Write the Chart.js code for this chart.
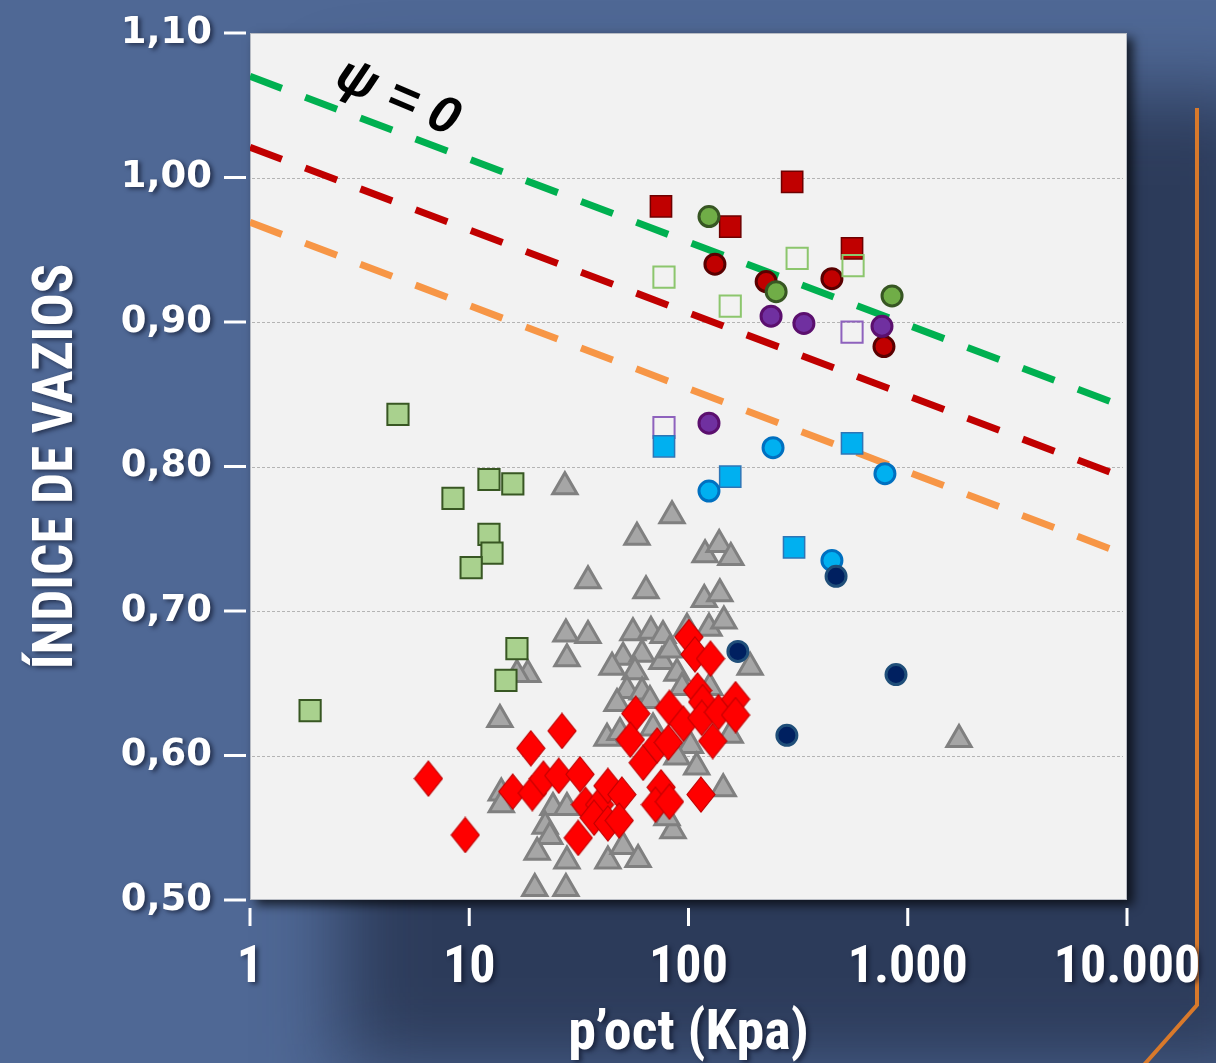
<!DOCTYPE html>
<html>
<head>
<meta charset="utf-8">
<script src="https://cdn.jsdelivr.net/npm/chart.js@4.4.1/dist/chart.umd.min.js"></script>
<style>
  html, body { margin: 0; padding: 0; background: #4f6895; }
  canvas { display: block; }
</style>
</head>
<body>
<canvas id="chart" width="1216" height="1063"></canvas>
<script>
// axes
const xTicks = [1, 10, 100, 1000, 10000];
const xTickLabels = ['1', '10', '100', '1.000', '10.000'];
const yTicks = [0.5, 0.6, 0.7, 0.8, 0.9, 1.0, 1.1];
const yTickLabels = ['0,50', '0,60', '0,70', '0,80', '0,90', '1,00', '1,10'];

// psi = 0 reference lines (p'oct, e)
const lineP = [1, 8400];
const greenLine = [1.070, 0.845];
const redLine = [1.021, 0.796];
const orangeLine = [0.969, 0.743];

// [p'oct kPa, void ratio]
const redSquares = [[74.9, 0.980], [297, 0.997], [155, 0.966], [557, 0.951]];
const greenCircles = [[124, 0.973], [251, 0.921], [848, 0.918]];
const redCircles = [[132, 0.940], [226, 0.928], [451, 0.930], [779, 0.883]];
const openGreenSquares = [[77.3, 0.931], [313, 0.944], [155, 0.911], [563, 0.939]];
const purpleCircles = [[238, 0.904], [336, 0.899], [763, 0.897], [124, 0.830]];
const openPurpleSquares = [[557, 0.893], [77.3, 0.827]];
const blueSquares = [[77.3, 0.814], [557, 0.816], [155, 0.793], [303, 0.744]];
const blueCircles = [[243, 0.813], [787, 0.795], [124, 0.783], [451, 0.735]];
const navyCircles = [[471, 0.724], [168, 0.672], [884, 0.656], [281, 0.614]];
const lightGreenSquares = [[4.73, 0.836], [12.3, 0.791], [15.8, 0.788], [8.43, 0.778], [12.3, 0.753],
  [12.7, 0.740], [10.2, 0.730], [16.5, 0.674], [14.7, 0.652], [1.88, 0.631]];
const grayTriangles = [
  [27.3, 0.786], [84.1, 0.766], [58.2, 0.751], [34.8, 0.721], [64.0, 0.714], [119, 0.739], [138, 0.746],
  [156, 0.737], [118, 0.708], [139, 0.712], [27.6, 0.684], [34.8, 0.683], [55.8, 0.685], [67.4, 0.686],
  [76.5, 0.683], [98.4, 0.688], [124, 0.688], [145, 0.693], [27.9, 0.667], [50.3, 0.668], [61.4, 0.670],
  [44.8, 0.661], [57.0, 0.658], [75.7, 0.665], [82.3, 0.673], [191, 0.661], [88.6, 0.657], [18.5, 0.656],
  [16.5, 0.656], [13.8, 0.625], [52.4, 0.645], [61.4, 0.644], [47.2, 0.636], [66.7, 0.638], [93.4, 0.647],
  [125, 0.647], [42.5, 0.612], [48.7, 0.616], [68.9, 0.619], [102, 0.607], [155, 0.614], [88.6, 0.599],
  [109, 0.592], [144, 0.577], [1713, 0.611], [14.0, 0.574], [14.0, 0.566], [24.1, 0.564], [27.9, 0.564],
  [22.2, 0.551], [23.3, 0.544], [20.4, 0.533], [27.9, 0.527], [42.9, 0.527], [50.3, 0.537], [58.9, 0.528],
  [19.9, 0.508], [27.6, 0.508], [85.0, 0.548], [79.8, 0.557]];
const redDiamonds = [
  [6.51, 0.584], [9.59, 0.545], [19.1, 0.605], [26.5, 0.617], [15.8, 0.575], [19.4, 0.574], [21.8, 0.584],
  [25.6, 0.586], [32.0, 0.587], [33.9, 0.566], [39.3, 0.566], [42.9, 0.579], [49.7, 0.573], [31.4, 0.543],
  [37.1, 0.557], [42.9, 0.553], [48.3, 0.555], [57.5, 0.629], [54.3, 0.611], [62.1, 0.595], [72.0, 0.607],
  [80.9, 0.609], [81.9, 0.633], [94.8, 0.622], [100.5, 0.682], [107, 0.670], [126, 0.667], [110, 0.645],
  [116, 0.637], [115, 0.626], [137, 0.630], [164, 0.639], [164, 0.628], [129, 0.610], [75.0, 0.578],
  [70.7, 0.566], [81.9, 0.568], [114, 0.573]];

const psiLabel = { text: 'ψ = 0', p: 4.7, e: 1.055 };

const narrow = '"Liberation Sans Narrow", "Roboto Condensed", Lato, sans-serif';
const pts = arr => arr.map(d => ({ x: d[0], y: d[1] }));

// diamond marker, a bit taller than wide
const diamond = document.createElement('canvas');
diamond.width = 30; diamond.height = 37;
(function () {
  const c = diamond.getContext('2d');
  c.beginPath();
  c.moveTo(15, 1); c.lineTo(29, 18.5); c.lineTo(15, 36); c.lineTo(1, 18.5); c.closePath();
  c.fillStyle = '#ff0000'; c.fill();
  c.lineWidth = 1.2; c.strokeStyle = '#c00000'; c.stroke();
})();

function markers(data, style, fill, border, radius, bw) {
  return { data: pts(data), pointStyle: style, backgroundColor: fill, borderColor: border,
    pointRadius: radius, pointBorderWidth: bw, showLine: false };
}
function dashLine(vals, color) {
  return { type: 'line', data: lineP.map((p, i) => ({ x: p, y: vals[i] })), borderColor: color,
    borderWidth: 7, borderDash: [34, 25], pointRadius: 0, fill: false, showLine: true, borderCapStyle: 'butt' };
}

const decor = {
  id: 'decor',
  beforeDraw(chart) {
    const { ctx, chartArea: a } = chart;
    ctx.save();
    ctx.fillStyle = '#4f6895';
    ctx.fillRect(0, 0, chart.width, chart.height);
    ctx.filter = 'blur(40px)';
    ctx.fillStyle = 'rgba(22, 30, 52, 0.6)';
    ctx.fillRect(a.left + 90, a.top + 60, a.width + 55, a.height + 110);
    ctx.filter = 'none';
    ctx.shadowColor = 'rgba(0, 0, 0, 0.7)';
    ctx.shadowBlur = 10; ctx.shadowOffsetX = 6; ctx.shadowOffsetY = 5;
    ctx.fillStyle = '#f2f2f2';
    ctx.fillRect(a.left, a.top, a.width, a.height);
    ctx.restore();
    ctx.strokeStyle = '#b8bcc4'; ctx.lineWidth = 1;
    ctx.strokeRect(a.left + 0.5, a.top + 0.5, a.width - 1, a.height - 1);
    // orange bracket on the right
    ctx.save();
    ctx.strokeStyle = '#d8792b'; ctx.lineWidth = 4;
    ctx.beginPath(); ctx.moveTo(1197, 108); ctx.lineTo(1197, 1005); ctx.lineTo(1143, 1066); ctx.stroke();
    ctx.restore();
    // soft shadow under axis texts
    ctx.shadowColor = 'rgba(10, 15, 35, 0.6)';
    ctx.shadowBlur = 4; ctx.shadowOffsetX = 3; ctx.shadowOffsetY = 2;
  },
  beforeDatasetsDraw(chart) {
    const { ctx, chartArea: a, scales: { x, y } } = chart;
    ctx.shadowColor = 'rgba(0,0,0,0)'; ctx.shadowBlur = 0; ctx.shadowOffsetX = 0; ctx.shadowOffsetY = 0;
    ctx.save();
    ctx.strokeStyle = '#b4b4b4'; ctx.lineWidth = 1; ctx.setLineDash([3, 2]);
    yTicks.slice(1, -1).forEach(v => {
      const py = Math.round(y.getPixelForValue(v)) + 0.5;
      ctx.beginPath(); ctx.moveTo(a.left + 2, py); ctx.lineTo(a.right - 4, py); ctx.stroke();
    });
    ctx.setLineDash([]);
    ctx.strokeStyle = '#ffffff'; ctx.lineWidth = 3;
    yTicks.forEach(v => {
      const py = y.getPixelForValue(v);
      ctx.beginPath(); ctx.moveTo(a.left - 26, py); ctx.lineTo(a.left - 4, py); ctx.stroke();
    });
    xTicks.forEach(v => {
      const px = x.getPixelForValue(v);
      ctx.beginPath(); ctx.moveTo(px, a.bottom + 8); ctx.lineTo(px, a.bottom + 26); ctx.stroke();
    });
    ctx.restore();
  },
  afterDraw(chart) {
    const { ctx, scales: { x, y } } = chart;
    ctx.save();
    ctx.translate(x.getPixelForValue(psiLabel.p), y.getPixelForValue(psiLabel.e));
    ctx.rotate(23 * Math.PI / 180);
    ctx.font = 'italic bold 52px "Liberation Sans", Arial, sans-serif';
    ctx.fillStyle = '#000';
    ctx.textAlign = 'center'; ctx.textBaseline = 'middle';
    ctx.fillText(psiLabel.text, 0, 0);
    ctx.restore();
  }
};

new Chart(document.getElementById('chart'), {
  type: 'scatter',
  data: {
    datasets: [
      markers(redDiamonds, diamond, '#ff0000', '#c00000', 15, 1),
      markers(lightGreenSquares, 'rect', '#a9d18e', '#385723', 15, 2),
      markers(navyCircles, 'circle', '#002060', '#1f4e79', 10, 3),
      markers(blueCircles, 'circle', '#00b0f0', '#0070c0', 10, 3),
      markers(blueSquares, 'rect', '#00b0f0', '#2e75b6', 15, 1.5),
      markers(openPurpleSquares, 'rect', 'rgba(0,0,0,0)', '#8e62bd', 15, 2),
      markers(purpleCircles, 'circle', '#7030a0', '#5b0f6e', 10, 3),
      markers(openGreenSquares, 'rect', 'rgba(0,0,0,0)', '#8cc66d', 15, 2),
      markers(greenCircles, 'circle', '#70ad47', '#375623', 10, 3),
      markers(redCircles, 'circle', '#c00000', '#5a0000', 10, 3),
      markers(redSquares, 'rect', '#c00000', '#6e0000', 15, 1.5),
      markers(grayTriangles, 'triangle', '#a6a6a6', '#808080', 14, 3),
      dashLine(greenLine, '#00b050'),
      dashLine(redLine, '#c00000'),
      dashLine(orangeLine, '#f79646')
    ]
  },
  options: {
    responsive: false,
    animation: false,
    devicePixelRatio: 1,
    events: [],
    layout: { padding: { top: 33, right: 89, left: 0, bottom: 0 } },
    plugins: { legend: { display: false }, tooltip: { enabled: false } },
    scales: {
      x: {
        type: 'logarithmic', min: 1, max: 10000,
        afterBuildTicks: s => { s.ticks = xTicks.map(v => ({ value: v })); },
        afterFit: s => { s.height = 163; s.paddingLeft = 0; s.paddingRight = 0; },
        grid: { display: false, drawTicks: false }, border: { display: false },
        ticks: { color: '#ffffff', padding: 38, maxRotation: 0, autoSkip: false,
          font: { family: narrow, size: 52, weight: 'bold' },
          callback: (v, i) => xTickLabels[i] },
        title: { display: true, text: 'p’oct (Kpa)', color: '#ffffff', padding: { top: 0, bottom: 0 },
          font: { family: narrow, size: 56, weight: 'bold', lineHeight: 1 } }
      },
      y: {
        min: 0.5, max: 1.1,
        afterBuildTicks: s => { s.ticks = yTicks.map(v => ({ value: v })); },
        afterFit: s => { s.width = 250; s.paddingTop = 0; s.paddingBottom = 0; },
        grid: { display: false, drawTicks: false }, border: { display: false },
        ticks: { color: '#ffffff', padding: 38, autoSkip: false,
          font: { family: '"DejaVu Sans", Verdana, sans-serif', size: 37, weight: 'bold' },
          callback: (v, i) => yTickLabels[i] },
        title: { display: true, text: 'ÍNDICE DE VAZIOS', color: '#ffffff', padding: { top: 31, bottom: 0 },
          font: { family: narrow, size: 55, weight: 'bold', lineHeight: 1 } }
      }
    }
  },
  plugins: [decor]
});
</script>
</body>
</html>
